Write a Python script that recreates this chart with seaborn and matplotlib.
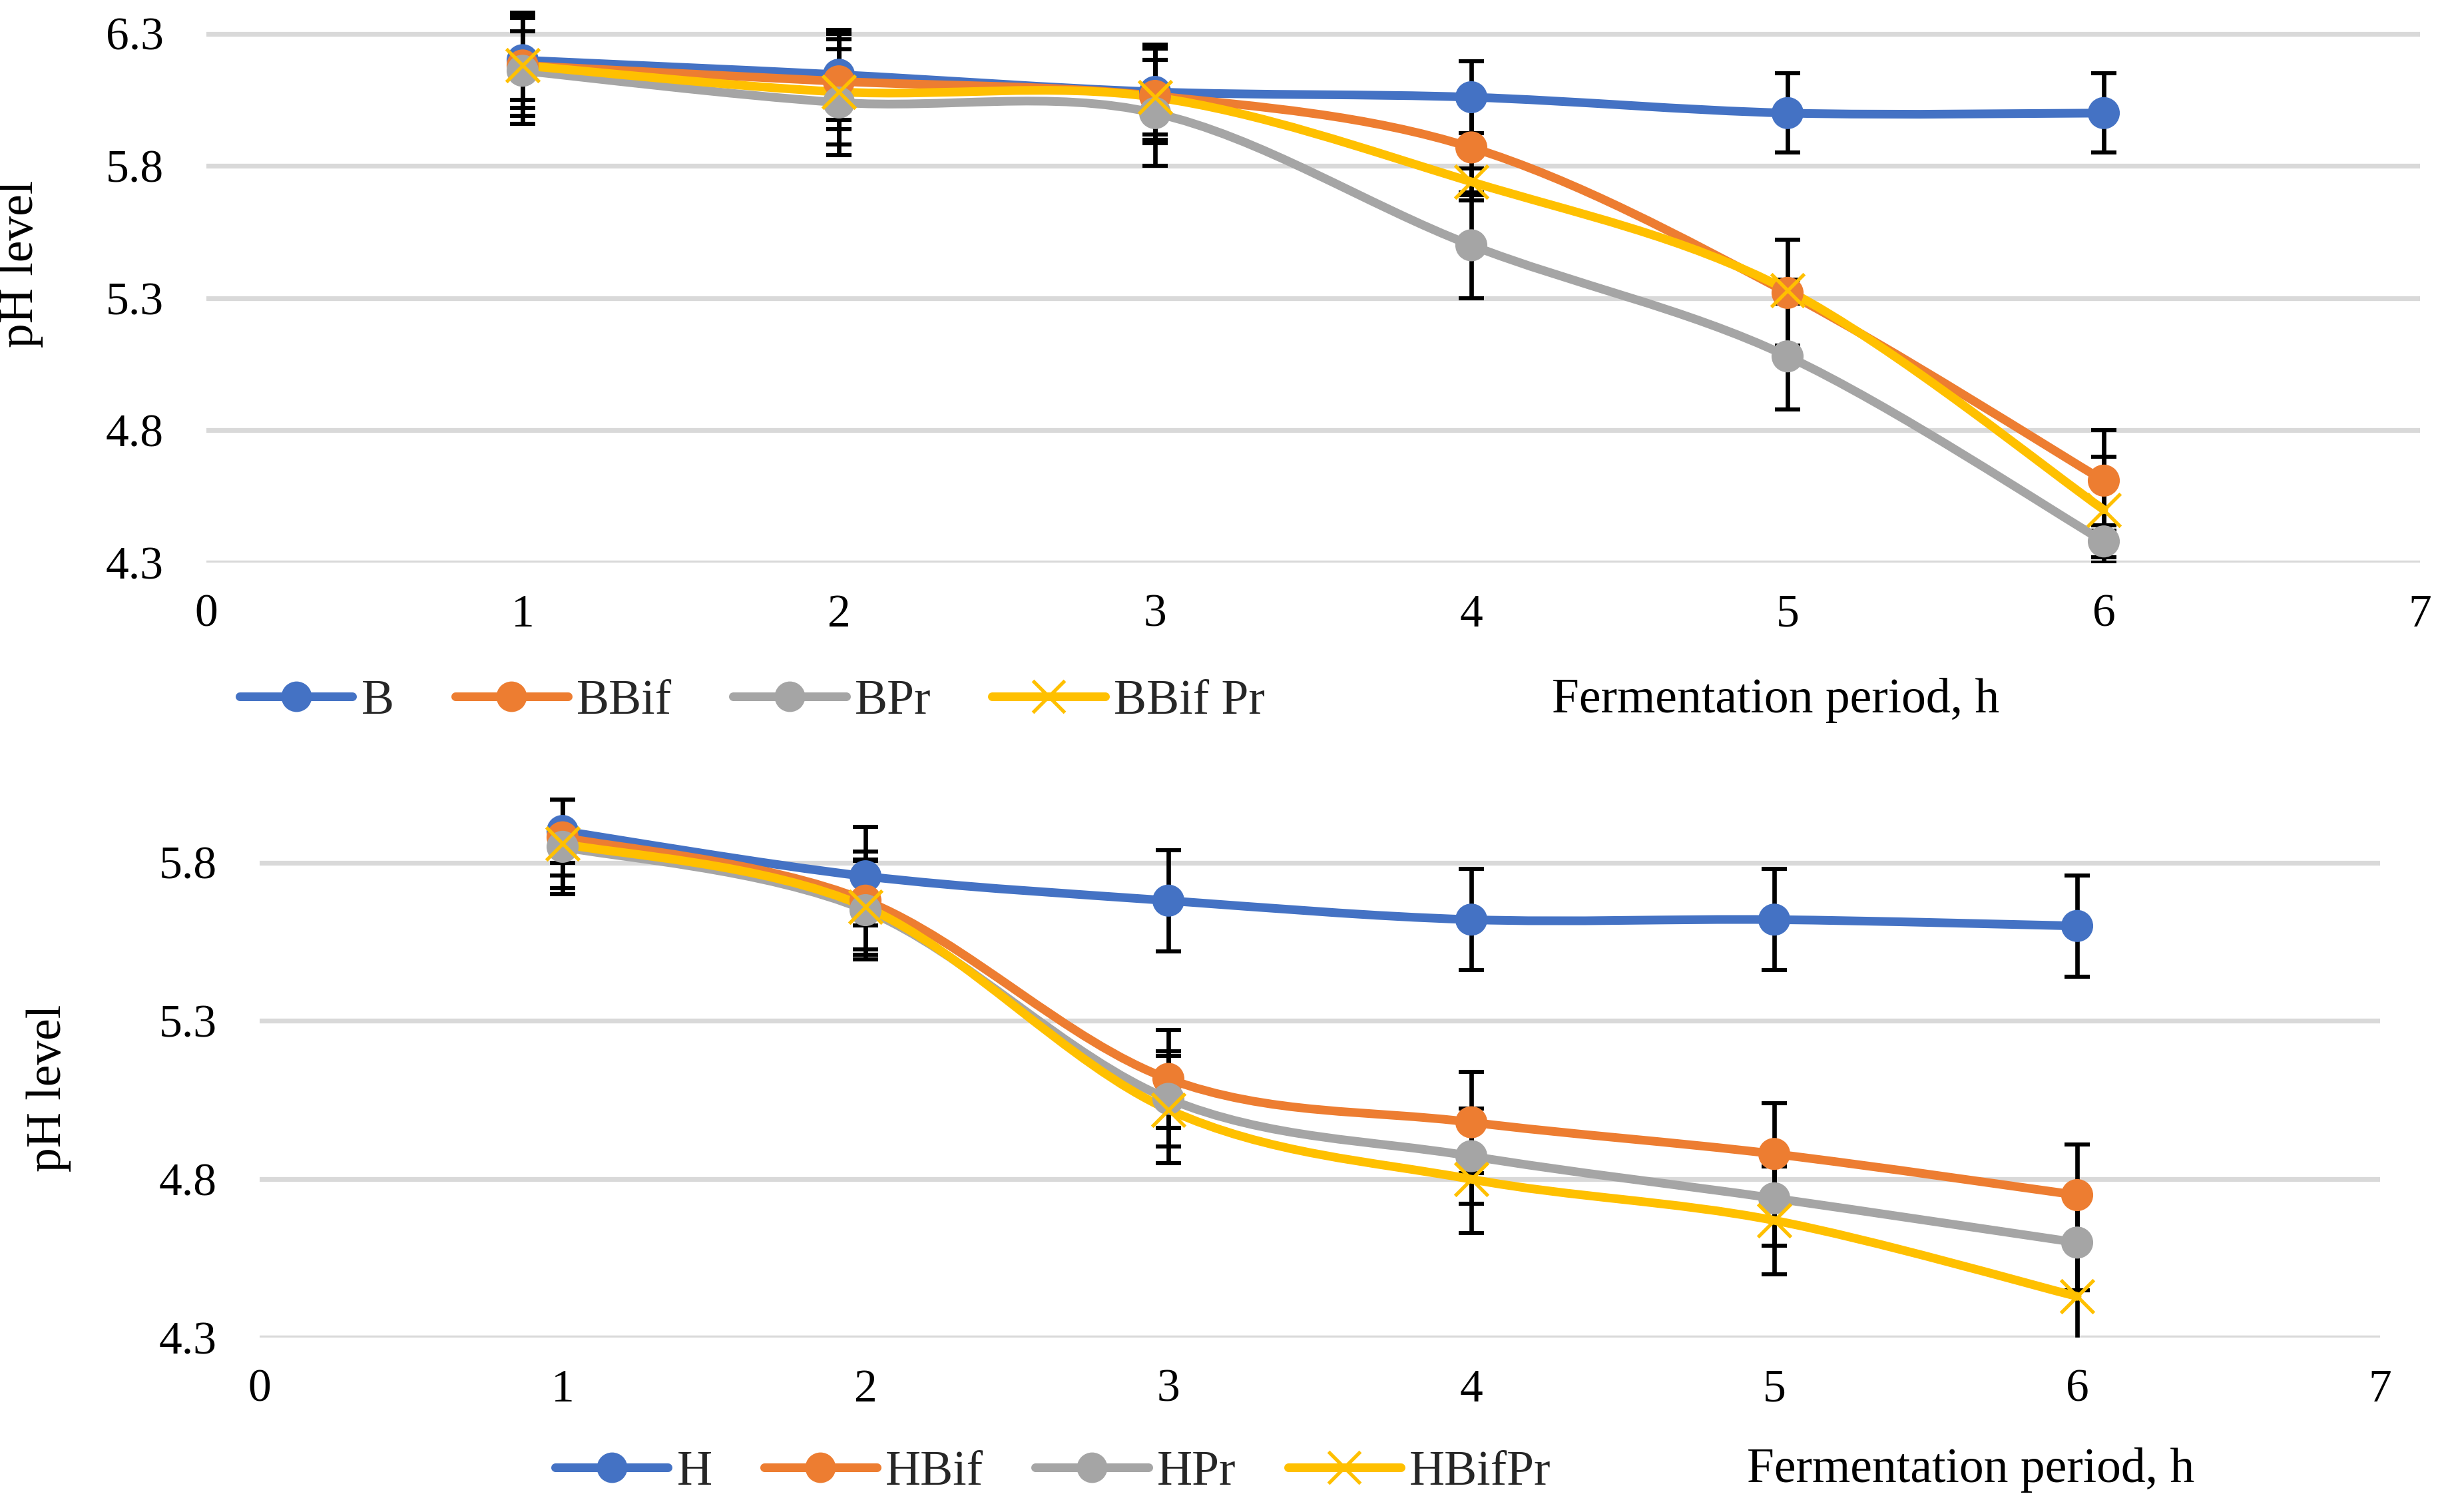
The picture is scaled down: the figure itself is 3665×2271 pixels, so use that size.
import numpy as np
import pandas as pd
import matplotlib
matplotlib.use('Agg')
import matplotlib.pyplot as plt
from matplotlib.path import Path
from matplotlib.patches import PathPatch
from matplotlib.lines import Line2D
import seaborn as sns

hours = [1, 2, 3, 4, 5, 6]
x_ticks = [0, 1, 2, 3, 4, 5, 6, 7]

# upper chart
b_names = ['B', 'BBif', 'BPr', 'BBif Pr']
b_ph = [
    [6.20, 6.145, 6.08, 6.06, 6.00, 6.00],
    [6.18, 6.12, 6.065, 5.87, 5.32, 4.61],
    [6.16, 6.04, 6.00, 5.50, 5.08, 4.38],
    [6.18, 6.08, 6.06, 5.74, 5.33, 4.50],
]
b_err = [
    [0.18, 0.17, 0.18, 0.135, 0.15, 0.15],
    [0.19, 0.18, 0.18, 0.20, 0.20, 0.19],
    [0.20, 0.20, 0.20, 0.20, 0.20, 0.06],
    [0.13, 0.20, 0.14, 0.05, 0.04, 0.20],
]
b_yticks = [4.3, 4.8, 5.3, 5.8, 6.3]

# lower chart
h_names = ['H', 'HBif', 'HPr', 'HBifPr']
h_ph = [
    [5.90, 5.757, 5.68, 5.62, 5.62, 5.60],
    [5.88, 5.68, 5.117, 4.98, 4.88, 4.75],
    [5.85, 5.65, 5.054, 4.873, 4.74, 4.60],
    [5.86, 5.66, 5.02, 4.80, 4.67, 4.43],
]
h_err = [
    [0.10, 0.155, 0.16, 0.16, 0.16, 0.16],
    [0.12, 0.155, 0.155, 0.16, 0.16, 0.16],
    [0.15, 0.155, 0.15, 0.15, 0.15, 0.15],
    [0.14, 0.15, 0.17, 0.17, 0.17, 0.17],
]
h_yticks = [4.3, 4.8, 5.3, 5.8]

colors = ['#4472C4', '#ED7D31', '#A5A5A5', '#FFC000']
markers = ['o', 'o', 'o', 'x']

sns.set_theme(style='white')
plt.rcParams['font.family'] = ['Liberation Serif', 'DejaVu Serif']


def smooth_path(xs, ys):
    # excel-like smoothed line, cubic bezier through the points
    pts = np.column_stack([xs, ys]).astype(float)
    n = len(pts)
    verts = [pts[0]]
    codes = [Path.MOVETO]
    for i in range(n - 1):
        p0 = pts[max(i - 1, 0)]
        p1 = pts[i]
        p2 = pts[i + 1]
        p3 = pts[min(i + 2, n - 1)]
        verts += [p1 + (p2 - p0) / 6, p2 - (p3 - p1) / 6, p2]
        codes += [Path.CURVE4] * 3
    return Path(verts, codes)


def draw_panel(ax, names, values, errors, ylim, yticks, leg_anchor, colspace,
               ylab_xy, xlab_xy):
    fig = ax.figure
    for i, name in enumerate(names):
        ax.errorbar(hours, values[i], yerr=errors[i], fmt='none', ecolor='black',
                    elinewidth=2.4, capsize=7, capthick=2.2, zorder=2)
    for i, name in enumerate(names):
        patch = PathPatch(smooth_path(hours, values[i]), facecolor='none',
                          edgecolor=colors[i], lw=4.7, capstyle='round',
                          joinstyle='round', zorder=3 + i * 0.01)
        ax.add_patch(patch)
    for i, name in enumerate(names):
        df = pd.DataFrame({'hour': hours, 'ph': values[i]})
        if markers[i] == 'x':
            sns.scatterplot(data=df, x='hour', y='ph', ax=ax, marker='x',
                            color=colors[i], s=320, linewidth=1.9,
                            zorder=4 + i * 0.01, legend=False)
        else:
            sns.scatterplot(data=df, x='hour', y='ph', ax=ax, marker='o',
                            color=colors[i], s=300, edgecolor='none',
                            linewidth=0, zorder=4 + i * 0.01, legend=False)

    ax.set_xlim(0, 7)
    ax.set_ylim(*ylim)
    ax.set_xticks(x_ticks)
    ax.set_yticks(yticks)
    ax.set_yticklabels([f'{v:.1f}' for v in yticks])
    ax.tick_params(axis='both', length=0, labelsize=25, colors='black')
    ax.tick_params(axis='x', pad=17)
    ax.tick_params(axis='y', pad=23)
    ax.grid(axis='y', color='#D9D9D9', linewidth=2.6)
    ax.grid(axis='x', visible=False)
    for sp in ax.spines.values():
        sp.set_visible(False)

    ax.set_ylabel('pH level', fontsize=26.5, color='black')
    ax.yaxis.set_label_coords(*ylab_xy)
    ax.set_xlabel('Fermentation period, h', fontsize=26.5, color='black')
    ax.xaxis.set_label_coords(*xlab_xy)
    ax.xaxis.label.set_va('center')

    handles = []
    for i, name in enumerate(names):
        if markers[i] == 'x':
            h = Line2D([], [], color=colors[i], lw=4.7, marker='x', markersize=17,
                       markeredgewidth=1.9, solid_capstyle='round')
        else:
            h = Line2D([], [], color=colors[i], lw=4.7, marker='o', markersize=16.5,
                       markeredgewidth=0, solid_capstyle='round')
        handles.append(h)
    fig.legend(handles, names, loc='center left', bbox_to_anchor=leg_anchor,
               ncol=4, frameon=False, fontsize=26.5, borderpad=0, borderaxespad=0,
               handlelength=2.3, handletextpad=0.18, columnspacing=colspace)


W, H = 3665, 2271
fig = plt.figure(figsize=(W / 200, H / 200), dpi=200)
fig.patch.set_facecolor('white')

ax_top = fig.add_axes([310 / W, 1 - 845 / H, (3635 - 310) / W, (845 - 3) / H])
ax_bot = fig.add_axes([390 / W, 1 - 2009 / H, (3575 - 390) / W, (2009 - 1153) / H])

draw_panel(ax_top, b_names, b_ph, b_err, (4.3, 6.42), b_yticks,
           (360 / W, 1 - 1054 / H), 1.25, (-0.0737, 0.533), (0.709, -0.246))
draw_panel(ax_bot, h_names, h_ph, h_err, (4.3, 6.1), h_yticks,
           (834 / W, 1 - 2212 / H), 1.06, (-0.0889, 0.438), (0.807, -0.232))

fig.savefig('out.png', dpi=200, facecolor='white')
